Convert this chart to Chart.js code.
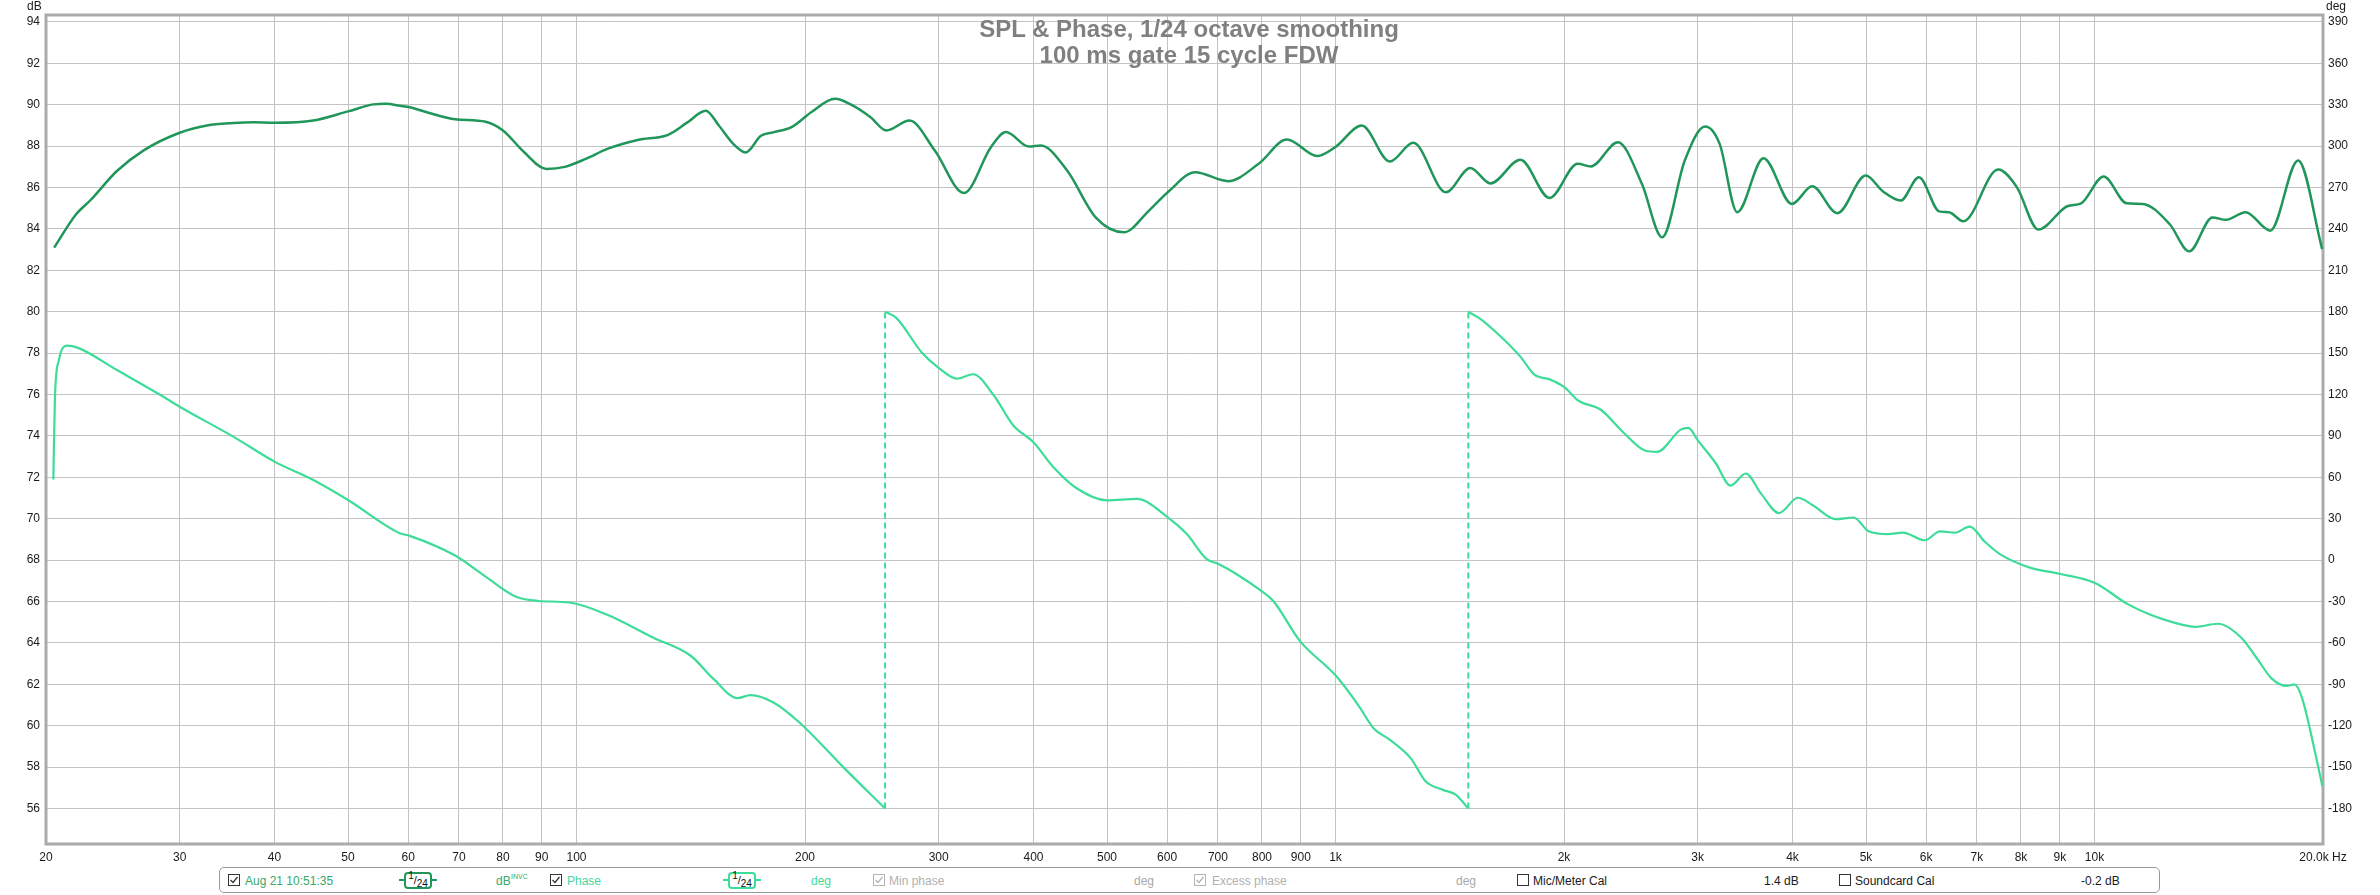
<!DOCTYPE html>
<html>
<head>
<meta charset="utf-8">
<title>SPL & Phase</title>
<script src="https://cdn.jsdelivr.net/npm/chart.js@4.4.1/dist/chart.umd.min.js"></script>
<style>
    body { margin: 0; background: #fff; }
    #wrap { position: relative; width: 2380px; height: 895px; font-family: "Liberation Sans", Arial, sans-serif; }
    #wrap canvas { position: absolute; left: 0; top: 0; }
    .t { position: absolute; top: 874px; font-size: 12px; line-height: 14px; white-space: nowrap; }
    .cb { position: absolute; top: 874px; width: 12px; height: 12px; }
    .ttl { position: absolute; left: 0; top: 16px; width: 2378px; text-align: center; font-size: 24px; line-height: 26px; font-weight: bold; color: #808080; }
    .ax { position: absolute; top: -1px; font-size: 12px; line-height: 14px; color: #1a1a1a; }
    #bar { position: absolute; left: 219px; top: 867px; width: 1939px; height: 24px; border: 1px solid #9a9a9a; border-radius: 5px; background: #fff; }
    .sm { position: absolute; top: 872px; width: 38px; height: 17px; }
    .sm .ln { position: absolute; left: 0; top: 7px; width: 38px; height: 2px; }
    .sm .bx { position: absolute; left: 5px; top: 0; width: 24px; height: 13px; border: 2px solid; border-radius: 4px; background: #fff;
              font-size: 11px; line-height: 13px; color: #111; text-align: center; }
    .sm sup, .sm sub { font-size: 10px; line-height: 0; }
</style>
</head>
<body>
<div id="wrap">
    <canvas id="splChart" width="2380" height="895"></canvas>

    <div class="ttl">SPL &amp; Phase, 1/24 octave smoothing<br>100 ms gate 15 cycle FDW</div>
    <div class="ax" style="left:27px">dB</div>
    <div class="ax" style="left:2326px">deg</div>

    <div id="bar"></div>
    <svg class="cb" style="left:228px"><rect x=".5" y=".5" width="11" height="11" fill="#fff" stroke="#333"/><polyline points="2.5,6 5,8.5 9.5,3" fill="none" stroke="#333" stroke-width="1.3"/></svg>
    <div class="t" style="left:245px; color:#36a868">Aug 21 10:51:35</div>
    <div class="sm" style="left:399px"><div class="ln" style="background:#21965a"></div><div class="bx" style="border-color:#21965a"><sup>1</sup>/<sub>24</sub></div></div>
    <div class="t" style="left:496px; color:#36a868">dB</div>
    <div class="t" style="left:511px; top:873px; font-size:7px; line-height:8px; color:#36a868">INVC</div>

    <svg class="cb" style="left:550px"><rect x=".5" y=".5" width="11" height="11" fill="#fff" stroke="#333"/><polyline points="2.5,6 5,8.5 9.5,3" fill="none" stroke="#333" stroke-width="1.3"/></svg>
    <div class="t" style="left:567px; color:#45d99c">Phase</div>
    <div class="sm" style="left:723px"><div class="ln" style="background:#3ddc98"></div><div class="bx" style="border-color:#3ddc98"><sup>1</sup>/<sub>24</sub></div></div>
    <div class="t" style="left:811px; color:#45d99c">deg</div>

    <svg class="cb" style="left:873px"><rect x=".5" y=".5" width="11" height="11" fill="#fff" stroke="#b4b4b4"/><polyline points="2.5,6 5,8.5 9.5,3" fill="none" stroke="#b4b4b4" stroke-width="1.3"/></svg>
    <div class="t" style="left:889px; color:#b0b0b0">Min phase</div>
    <div class="t" style="left:1134px; color:#a8a8a8">deg</div>

    <svg class="cb" style="left:1194px"><rect x=".5" y=".5" width="11" height="11" fill="#fff" stroke="#b4b4b4"/><polyline points="2.5,6 5,8.5 9.5,3" fill="none" stroke="#b4b4b4" stroke-width="1.3"/></svg>
    <div class="t" style="left:1212px; color:#b0b0b0">Excess phase</div>
    <div class="t" style="left:1456px; color:#a8a8a8">deg</div>

    <svg class="cb" style="left:1517px"><rect x=".5" y=".5" width="11" height="11" fill="#fff" stroke="#333"/></svg>
    <div class="t" style="left:1533px; color:#1a1a1a">Mic/Meter Cal</div>
    <div class="t" style="left:1764px; color:#1a1a1a">1.4 dB</div>

    <svg class="cb" style="left:1839px"><rect x=".5" y=".5" width="11" height="11" fill="#fff" stroke="#333"/></svg>
    <div class="t" style="left:1855px; color:#1a1a1a">Soundcard Cal</div>
    <div class="t" style="left:2081px; color:#1a1a1a">-0.2 dB</div>
</div>

<script>
// values
var splFreq = [20.5, 21.9, 22.9, 24.8, 26.9, 30, 32.6, 35.3, 37.5, 40, 45, 50, 54, 56.2, 58.5, 60.3, 64, 69.2, 75.9, 80,
    85.2, 91.3, 96.5, 103, 109.8, 120.4, 132, 140, 148, 154, 161, 167, 175, 182, 192, 204, 219, 231, 244, 256,
    274.5, 296.5, 324, 351.5, 368, 394.5, 409, 443, 483, 526, 568, 604, 653, 722, 792, 863, 946, 999, 1083, 1179,
    1266, 1398, 1505, 1600, 1752, 1914, 2085, 2170, 2355, 2533, 2694, 2885, 3069, 3207, 3383, 3663, 3993, 4247, 4584, 4995,
    5265, 5553, 5870, 6244, 6430, 6718, 7465, 7900, 8433, 9223, 9604, 10280, 11025, 11575, 12557, 13330, 14302, 14896, 15815, 17046,
    18545, 19950];
var splDb = [83.1, 84.7, 85.4, 86.8, 87.8, 88.65, 89.0, 89.12, 89.16, 89.13, 89.24, 89.68, 90.02, 90.05, 89.95, 89.88, 89.6, 89.3, 89.18, 88.76,
    87.73, 86.9, 87.0, 87.4, 87.87, 88.3, 88.55, 89.15, 89.71, 89.0, 88.1, 87.7, 88.5, 88.68, 88.92, 89.65, 90.29, 89.97, 89.4, 88.76,
    89.24, 87.79, 85.74, 87.95, 88.68, 87.98, 88.03, 86.82, 84.56, 83.84, 84.89, 85.85, 86.74, 86.31, 87.15, 88.32, 87.52, 87.95, 89.0, 87.26,
    88.16, 85.77, 86.95, 86.2, 87.34, 85.5, 87.15, 87.02, 88.19, 86.18, 83.6, 87.31, 88.95, 88.11, 84.81, 87.42, 85.21, 86.06, 84.76, 86.58,
    85.81, 85.37, 86.5, 84.85, 84.81, 84.37, 86.87, 86.02, 83.97, 85.11, 85.24, 86.53, 85.24, 85.21, 84.24, 82.92, 84.56, 84.44, 84.81, 83.92,
    87.31, 83.03];

var phaseFreq = [20.45, 20.55, 20.8, 21.3, 22, 24.8, 28.3, 30, 35.3, 40, 45, 50, 58.5, 60.3, 69.2, 75.9, 83.1, 89, 97.9, 109.8,
    126.1, 141.4, 151.3, 163, 169.5, 182, 197, 224.6, 255, 255, 264, 285, 300, 317, 333, 354, 376, 400, 425, 456,
    500, 547, 600, 637, 676, 700, 741, 800, 828, 898, 1000, 1073, 1123, 1176, 1258, 1313, 1385, 1440, 1496, 1496,
    1550, 1653, 1752, 1830, 1915, 2000, 2091, 2236, 2395, 2560, 2653, 2850, 2916, 3000, 3168, 3316, 3471, 3634, 3840, 4066,
    4259, 4560, 4817, 5040, 5345, 5590, 5980, 6256, 6545, 6850, 7170, 7505, 8220, 9000, 10000, 11060, 11850, 12700, 13590, 14550,
    15600, 16330, 17110, 17920, 18340, 18770, 19510, 19960];
var phaseDeg = [58.5, 118, 145, 155.4, 154, 137.8, 119.7, 111.2, 89.5, 71.4, 58.1, 43.6, 19.5, 17.6, 3.3, -12, -26.4, -29.6, -30.7, -39.6,
    -56.1, -69.3, -85.7, -100, -97.8, -103.3, -118, -150, -180, 180, 175.4, 150.5, 139.4, 131.6, 134.7, 120, 97.8, 85.4, 67.4, 52.1,
    43.3, 44.4, 31.4, 18.9, 0.9, -2.7, -10.2, -22.7, -29.6, -58.7, -83.5, -105.6, -122, -129.8, -144, -160, -166.5, -170, -180, 180,
    175, 161.7, 147.5, 134.2, 131, 125.5, 115.5, 109, 92.5, 79.3, 78.5, 94.6, 95.8, 87, 70.4, 54, 62.8, 48.4, 34.1, 45.2,
    39.6, 29.7, 30.9, 20.9, 18.8, 19.9, 14.4, 20.9, 19.9, 24.3, 13.3, 4.4, -5.4, -9.9, -16.4, -31.9, -39.6, -45.1, -48.3, -46.1,
    -56.1, -70.4, -85.7, -91.2, -90.1, -100, -138.5, -163.8];

var dbTicks = [56, 58, 60, 62, 64, 66, 68, 70, 72, 74, 76, 78, 80, 82, 84, 86, 88, 90, 92, 94];
var degTicks = [-180, -150, -120, -90, -60, -30, 0, 30, 60, 90, 120, 150, 180, 210, 240, 270, 300, 330, 360, 390];
var freqTicks = [20, 30, 40, 50, 60, 70, 80, 90, 100, 200, 300, 400, 500, 600, 700, 800, 900,
    1000, 2000, 3000, 4000, 5000, 6000, 7000, 8000, 9000, 10000, 20000];
var freqLabels = ['20', '30', '40', '50', '60', '70', '80', '90', '100', '200', '300', '400', '500', '600', '700', '800', '900',
    '1k', '2k', '3k', '4k', '5k', '6k', '7k', '8k', '9k', '10k', '20.0k Hz'];

function spl_phase_chart() {
    var spl = [];
    for (var i = 0; i < splFreq.length; i++) {
        spl.push({ x: splFreq[i], y: splDb[i] });
    }

    // phase is wrapped: break the line at each wrap and draw the jump dashed
    var phase = [];
    var wraps = [];
    for (var j = 0; j < phaseFreq.length; j++) {
        if (j > 0 && Math.abs(phaseDeg[j] - phaseDeg[j - 1]) > 300) {
            phase.push({ x: phaseFreq[j], y: null });
            wraps.push({ x: phaseFreq[j - 1], y: phaseDeg[j - 1] });
            wraps.push({ x: phaseFreq[j], y: phaseDeg[j] });
            wraps.push({ x: phaseFreq[j], y: null });
        }
        phase.push({ x: phaseFreq[j], y: phaseDeg[j] });
    }

    var tickFont = { family: '"Liberation Sans", Arial, sans-serif', size: 12 };

    var frame = {
        id: 'frame',
        beforeDatasetsDraw: function (chart) {
            var ctx = chart.ctx, a = chart.chartArea;
            ctx.save();
            ctx.strokeStyle = '#ababab';
            ctx.lineWidth = 3;
            ctx.strokeRect(a.left, a.top, a.right - a.left, a.bottom - a.top);
            ctx.restore();
        }
    };

    new Chart("splChart", {
        type: "line",
        data: {
            datasets: [{
                label: 'Aug 21 10:51:35',
                data: spl,
                yAxisID: 'y',
                borderColor: '#21965a',
                borderWidth: 2.5,
                pointRadius: 0,
                cubicInterpolationMode: 'monotone',
                fill: false
            }, {
                label: 'Phase',
                data: phase,
                yAxisID: 'y1',
                borderColor: '#3ddc98',
                borderWidth: 2.2,
                pointRadius: 0,
                cubicInterpolationMode: 'monotone',
                spanGaps: false,
                fill: false
            }, {
                label: 'wrap',
                data: wraps,
                yAxisID: 'y1',
                borderColor: '#3ddc98',
                borderWidth: 2,
                borderDash: [6, 4],
                pointRadius: 0,
                spanGaps: false,
                fill: false
            }]
        },
        options: {
            responsive: false,
            animation: false,
            devicePixelRatio: 1,
            layout: { padding: { top: 15, left: 0, right: 0, bottom: 0 } },
            plugins: {
                legend: { display: false },
                title: { display: false },
                tooltip: { enabled: false }
            },
            scales: {
                x: {
                    type: 'logarithmic',
                    position: 'bottom',
                    min: 20,
                    max: 20000,
                    afterBuildTicks: function (scale) {
                        scale.ticks = freqTicks.map(function (v) { return { value: v }; });
                    },
                    afterFit: function (scale) { scale.height = 51; },
                    grid: { color: '#c3c3c3', lineWidth: 1, drawTicks: false },
                    border: { display: false },
                    ticks: {
                        autoSkip: false,
                        maxRotation: 0,
                        minRotation: 0,
                        padding: 6,
                        color: '#1a1a1a',
                        font: tickFont,
                        callback: function (value, index) { return freqLabels[index]; }
                    }
                },
                y: {
                    position: 'left',
                    min: 54.285,
                    max: 94.338,
                    afterBuildTicks: function (scale) {
                        scale.ticks = dbTicks.map(function (v) { return { value: v }; });
                    },
                    afterFit: function (scale) { scale.width = 46; },
                    grid: { color: '#c3c3c3', lineWidth: 1, drawTicks: false },
                    border: { display: false },
                    ticks: { padding: 6, color: '#1a1a1a', font: tickFont }
                },
                y1: {
                    position: 'right',
                    min: -205.725,
                    max: 395.07,
                    afterBuildTicks: function (scale) {
                        scale.ticks = degTicks.map(function (v) { return { value: v }; });
                    },
                    afterFit: function (scale) { scale.width = 57; },
                    grid: { drawOnChartArea: false, drawTicks: false },
                    border: { display: false },
                    ticks: { padding: 5, color: '#1a1a1a', font: tickFont }
                }
            }
        },
        plugins: [frame]
    });
}

spl_phase_chart();
</script>
</body>
</html>
